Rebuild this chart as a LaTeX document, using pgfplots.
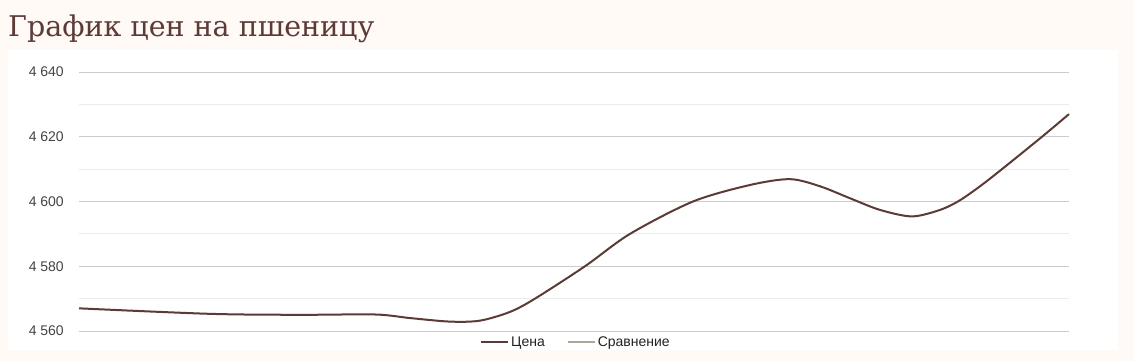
\documentclass[border=0pt]{standalone}
\usepackage{fontspec}
\setmainfont{Liberation Sans}
\newfontfamily\titlefont{DejaVu Serif}
\usepackage{pgfplots}
\pgfplotsset{compat=1.18}
\definecolor{bg}{RGB}{255,250,246}
\definecolor{pbrown}{RGB}{92,58,54}
\definecolor{cmp}{RGB}{168,168,150}
\definecolor{majorg}{RGB}{204,204,204}
\definecolor{minorg}{RGB}{235,235,235}
\definecolor{ticktext}{RGB}{68,68,68}
\definecolor{legtext}{RGB}{34,34,34}
\begin{document}
\begin{tikzpicture}
\fill[bg] (-79bp,-30bp) rectangle (1055bp,331bp);
\fill[white] (-71bp,-19bp) rectangle (1039bp,281bp);
\node[anchor=base west, inner sep=0, text=pbrown, font=\titlefont\fontsize{28.5bp}{34bp}\selectfont] at (-71bp,294bp) {График цен на пшеницу};
\begin{axis}[
  scale only axis,
  width=990bp, height=259bp,
  xmin=0, xmax=990, ymin=4560, ymax=4640,
  axis line style={draw=none},
  xtick=\empty,
  ytick={4560,4580,4600,4620,4640},
  yticklabels={4 560,4 580,4 600,4 620,4 640},
  minor ytick={4570,4590,4610,4630},
  ymajorgrids, yminorgrids,
  major grid style={majorg, line width=1bp},
  minor grid style={minorg, line width=1bp},
  major tick length=0pt, minor tick length=0pt,
  yticklabel style={font=\fontsize{14bp}{16bp}\selectfont, text=ticktext, anchor=east, inner sep=0pt, xshift=-15bp},
  clip=false,
  legend style={at={(axis description cs:0.502,-0.0425)}, anchor=center, draw=none, fill=none,
    font=\fontsize{14bp}{16bp}\selectfont, text=legtext,
    /tikz/every even column/.append style={column sep=20bp}},
  legend columns=2,
  legend image code/.code={\draw[#1] (-3bp,0bp) -- (24bp,0bp);},
]
\addplot[pbrown, line width=2bp, smooth, tension=0.5] coordinates {
(0,4567.0) (131,4565.3) (221,4565.0) (296,4565.1) (331,4564.0) (371,4562.9)
(401,4563.2) (431,4565.9) (456,4570.0) (506,4580.0) (551,4590.0) (614,4600.0)
(671,4605.1) (711,4606.9) (741,4604.7) (771,4601.0) (801,4597.4) (833,4595.4)
(861,4597.4) (880,4600.2) (901,4604.7) (923,4610.0) (963,4620.0) (990,4627.0)
};
\addlegendentry{Цена}
\addlegendimage{cmp, line width=2bp}
\addlegendentry{Сравнение}
\end{axis}
\end{tikzpicture}
\end{document}
